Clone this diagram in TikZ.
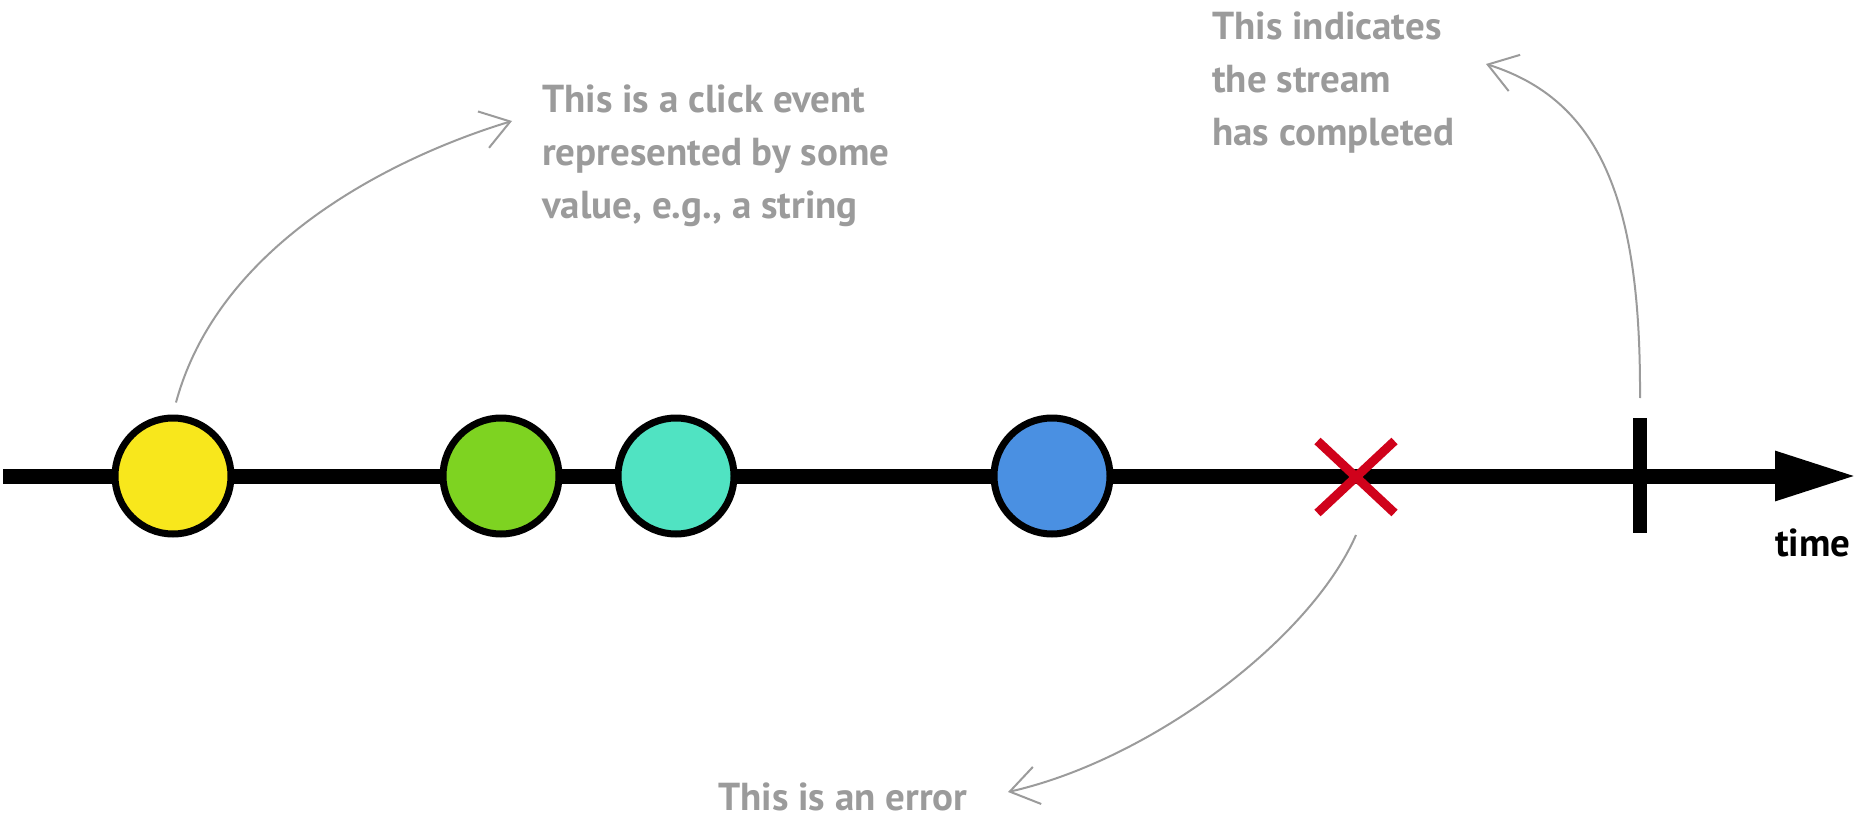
\documentclass[tikz,border=0pt]{standalone}
\usepackage{fontspec}
\setmainfont{PT Sans}
\usetikzlibrary{arrows.meta,shapes.misc}
\definecolor{evyellow}{HTML}{F8E71C}
\definecolor{evgreen}{HTML}{7ED321}
\definecolor{evcyan}{HTML}{50E3C2}
\definecolor{evblue}{HTML}{4A90E2}
\definecolor{everr}{HTML}{D0021B}
\definecolor{annogray}{HTML}{9B9B9B}
\tikzset{
  event/.style={circle, draw=black, line width=7pt, minimum size=116pt, inner sep=0pt},
  anno/.style={text=annogray, font=\fontsize{39}{53}\selectfont\bfseries, align=left, inner sep=0pt},
  pointer/.style={draw=annogray, line width=2pt, -{Straight Barb[length=28pt,width=38pt]}},
  axis/.style={line width=15pt, -{Triangle[length=82pt,width=46pt]}},
}
\begin{document}
\begin{tikzpicture}[x=1pt,y=-1pt]
\useasboundingbox (0,0) rectangle (1864,821);
% time axis
\coordinate (axstart) at (3,476);
\coordinate (axend) at (1857,476);
\draw[axis] (axstart) -- (axend);
% events
\node[event, fill=evyellow] (ev1) at (173,476) {};
\node[event, fill=evgreen] (ev2) at (501,476) {};
\node[event, fill=evcyan] (ev3) at (676,476) {};
\node[event, fill=evblue] (ev4) at (1052,476) {};
\node[cross out, draw=everr, line width=9pt, minimum width=68pt, minimum height=63pt, inner sep=0pt] (err) at (1356,477) {};
\node[fill=black, minimum width=14pt, minimum height=115pt, inner sep=0pt, outer sep=0pt] (done) at (1640,475.5) {};
\node[font=\fontsize{39}{52}\selectfont\bfseries, anchor=base, inner sep=0pt] (time) at (1813,556) {time};
% annotations
\node[anno, anchor=north west] (t1) at (542,85) {This is a click event\\represented by some\\value, e.g., a string};
\node[anno, anchor=north west] (t2) at (1212,12) {This indicates\\the stream\\has completed};
\node[anno, anchor=base west] (t3) at (718,810) {This is an error};
% pointers
\coordinate (tip1) at (512,121);
\coordinate (tip2) at (1486,64);
\coordinate (tip3) at (1008,792);
\draw[pointer] ([xshift=3pt,yshift=12pt]ev1.north) .. controls (220,240) and (400,155) .. (tip1);
\draw[pointer] ([yshift=20pt]done.north) .. controls (1641,200) and (1600,100) .. (tip2);
\draw[pointer] ([yshift=-22pt]err.south) .. controls (1310,640) and (1150,760) .. (tip3);
\end{tikzpicture}
\end{document}
